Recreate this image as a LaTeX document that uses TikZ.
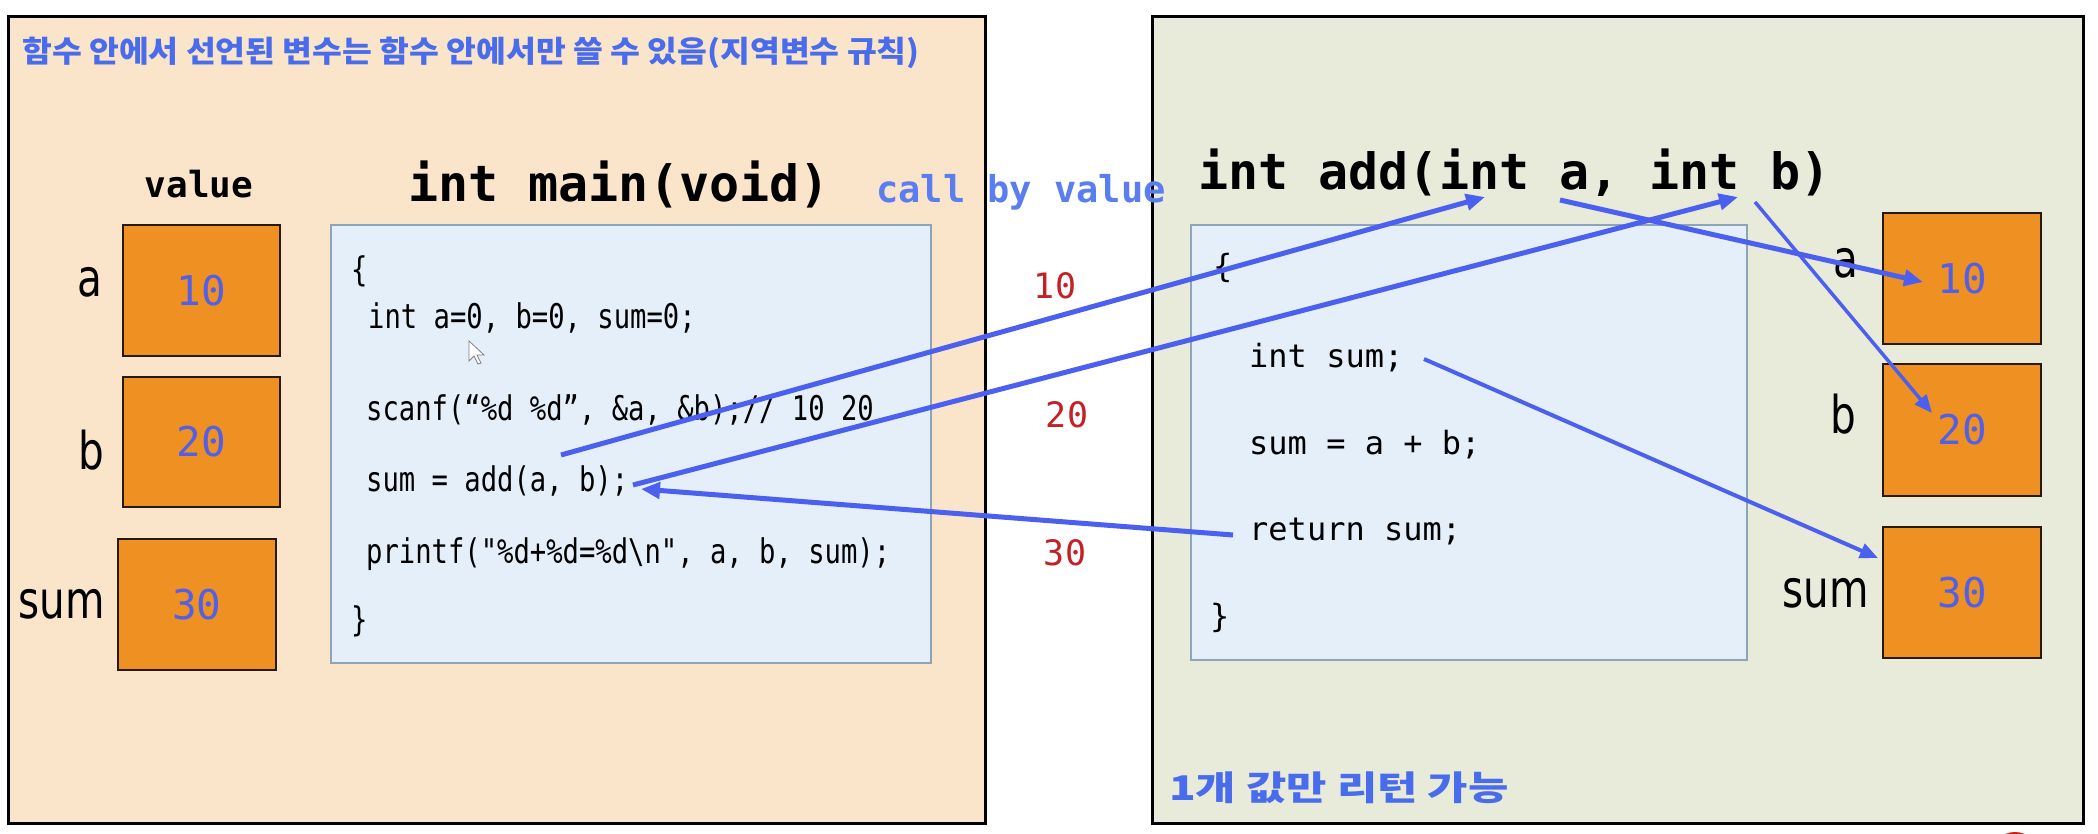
\documentclass[tikz,border=0pt]{standalone}
\usepackage{fontspec}
\usepackage{graphicx}
\usetikzlibrary{arrows.meta}
\newfontfamily\monof{DejaVu Sans Mono}
\newfontfamily\monocond[FakeStretch=0.8]{DejaVu Sans Mono}
\newfontfamily\lblf[FakeStretch=0.78]{DejaVu Sans}
\newfontfamily\krf{Noto Sans CJK KR}
\newcommand\fsz[1]{\fontsize{#1}{#1}\selectfont}
\definecolor{peach}{RGB}{251,229,202}
\definecolor{sage}{RGB}{232,235,218}
\definecolor{codefill}{RGB}{228,239,250}
\definecolor{codeline}{RGB}{140,165,185}
\definecolor{boxorange}{RGB}{238,144,34}
\definecolor{arrblue}{RGB}{76,96,240}
\definecolor{titleblue}{RGB}{72,108,235}
\definecolor{cbvblue}{RGB}{90,125,240}
\definecolor{numblue}{RGB}{82,96,232}
\definecolor{numred}{RGB}{196,32,38}
\definecolor{recred}{RGB}{210,30,25}
\begin{document}
\begin{tikzpicture}[x=1pt,y=-1pt,
  panel/.style={draw=black, line width=3pt, inner sep=0pt},
  codebox/.style={draw=codeline, line width=2pt, fill=codefill, inner sep=0pt},
  varbox/.style={draw=black!80!brown, line width=2pt, fill=boxorange, inner sep=0pt,
    minimum width=157pt, minimum height=131pt, font=\monof\fsz{41}, text=numblue},
  lbl/.style={inner sep=0pt, anchor=base east, font=\lblf\fsz{52}},
  maincode/.style={inner sep=0pt, anchor=base west, font=\monocond\fsz{34}},
  addcode/.style={inner sep=0pt, anchor=base west, font=\monof\fsz{32}},
  header/.style={inner sep=0pt, anchor=base west, font=\monof\bfseries\fsz{50}},
  rednum/.style={inner sep=0pt, font=\monof\fsz{35}, text=numred},
  arr/.style={draw=arrblue, line width=5pt, -{Triangle[length=19pt,width=16pt]}},
  arrthin/.style={draw=arrblue, line width=3.5pt, -{Triangle[length=18pt,width=15pt]}}
]
\useasboundingbox (0,0) rectangle (2098,834);
\fill[white] (0,0) rectangle (2098,834);

% panels
\node[panel, fill=peach, minimum width=977pt, minimum height=806pt] (lp) at (496.5,420) {};
\node[panel, fill=sage, minimum width=931pt, minimum height=806pt] (rp) at (1617.5,420) {};

% titles
\node[inner sep=0pt, anchor=west, font=\krf\bfseries\fsz{30}, text=titleblue] (ttl) at (22,53)
  {\scalebox{1.08}[1]{함수 안에서 선언된 변수는 함수 안에서만 쓸 수 있음(지역변수 규칙)}};
\node[inner sep=0pt, anchor=west, font=\krf\bfseries\fsz{34}, text=titleblue] (ret) at (1169,788)
  {\scalebox{1.29}[1]{1개 값만 리턴 가능}};

\node[inner sep=0pt, anchor=base, font=\monof\bfseries\fsz{36}] (val) at (199,198) {value};
\node[header] (mainh) at (408,202) {int main(void)};
\node[header] (addh) at (1198,190) {int add(int a, int b)};
\node[inner sep=0pt, anchor=base west, font=\monof\bfseries\fsz{37}, text=cbvblue] (cbv) at (876,203) {call by value};

% code boxes
\node[codebox, minimum width=600pt, minimum height=438pt] (mcb) at (631,444) {};
\node[codebox, minimum width=556pt, minimum height=435pt] (acb) at (1469,442.5) {};

% main code
\node[maincode] (m0) at (351,281) {\{};
\node[maincode] (m1) at (368,328) {int a=0, b=0, sum=0;};
\node[maincode] (m2) at (366,420) {scanf(“\%d \%d”, \&a, \&b);// 10 20};
\node[maincode] (m3) at (366,491) {sum = add(a, b);};
\node[maincode] (m4) at (366,563) {printf("\%d+\%d=\%d\textbackslash n", a, b, sum);};
\node[maincode] (m5) at (351,631) {\}};

% add code
\node[addcode] (a0) at (1213,277) {\{};
\node[addcode] (a1) at (1249,367) {int sum;};
\node[addcode] (a2) at (1249,454) {sum = a + b;};
\node[addcode] (a3) at (1249,540) {return sum;};
\node[addcode] (a4) at (1210,627) {\}};

% variable boxes left
\node[varbox] (la) at (201.5,290.5) {10};
\node[varbox, minimum height=130pt] (lb) at (201.5,442) {20};
\node[varbox, minimum width=158pt] (ls) at (197,604.5) {30};
\node[lbl] (lal) at (103,297) {a};
\node[lbl] (lbl) at (104,469) {b};
\node[lbl] (lsl) at (105,618) {sum};

% variable boxes right
\node[varbox, minimum width=158pt] (ra) at (1962,278.5) {10};
\node[varbox, minimum width=158pt, minimum height=132pt] (rb) at (1962,430) {20};
\node[varbox, minimum width=158pt] (rs) at (1962,592.5) {30};
\node[lbl] (ral) at (1859,277) {a};
\node[lbl] (rbl) at (1856,433) {b};
\node[lbl] (rsl) at (1869,607) {sum};

% red numbers
\node[rednum] (r10) at (1055,286) {10};
\node[rednum] (r20) at (1067,415) {20};
\node[rednum] (r30) at (1065,553) {30};

% cursor
\draw[gray, line width=0.8pt, fill=white] (469,341) -- (469,361) -- (474,356) -- (478,364) -- (481,363) -- (477,355) -- (484,355) -- cycle;

% arrow end points
\coordinate (s1) at (561,455);
\coordinate (e1) at (1485,197);
\coordinate (s2) at (633,485);
\coordinate (e2) at (1738,197);
\coordinate (s3) at (1560,200);
\coordinate (e3) at (1923,282);
\coordinate (s4) at (1755,202);
\coordinate (e4) at (1932,413);
\coordinate (s5) at (1424,359);
\coordinate (e5) at (1878,558);
\coordinate (s6) at (1233,535);
\coordinate (e6) at (641,489);

\draw[arr] (s1) -- (e1);
\draw[arr] (s2) -- (e2);
\draw[arr] (s3) -- (e3);
\draw[arrthin] (s4) -- (e4);
\draw[arrthin, line width=4pt] (s5) -- (e5);
\draw[arr] (s6) -- (e6);

% recording dot
\begin{scope}
\clip (0,0) rectangle (2098,834);
\fill[recred] (2015,856) circle (24pt);
\end{scope}
\end{tikzpicture}
\end{document}
